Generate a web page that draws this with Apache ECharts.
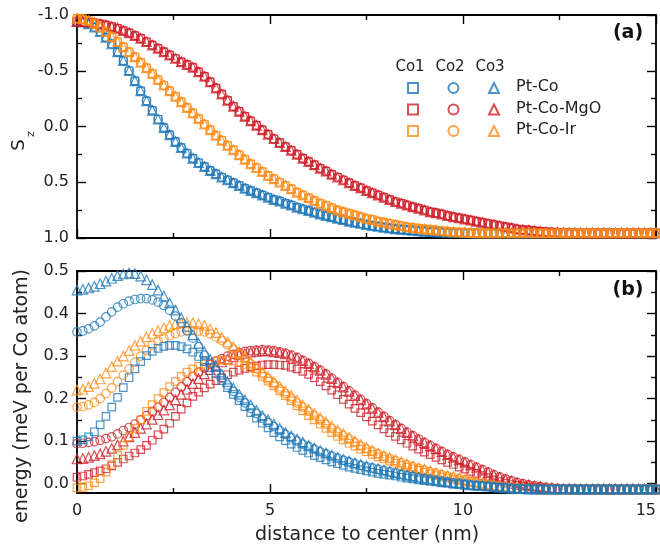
<!DOCTYPE html>
<html><head><meta charset="utf-8">
<script src="https://cdn.jsdelivr.net/npm/echarts@6/dist/echarts.min.js"></script>
<style>html,body{margin:0;padding:0;background:#fff}#c{width:660px;height:552px}</style>
</head><body><div id="c"></div>
<script>
// distance to center (nm)
const r = [0,0.15,0.3,0.45,0.6,0.75,0.9,1.05,1.2,1.35,
1.5,1.65,1.8,1.95,2.1,2.25,2.4,2.55,2.7,2.85,
3,3.15,3.3,3.45,3.6,3.75,3.9,4.05,4.2,4.35,
4.5,4.65,4.8,4.95,5.1,5.25,5.4,5.55,5.7,5.85,
6,6.15,6.3,6.45,6.6,6.75,6.9,7.05,7.2,7.35,
7.5,7.65,7.8,7.95,8.1,8.25,8.4,8.55,8.7,8.85,
9,9.15,9.3,9.45,9.6,9.75,9.9,10.05,10.2,10.35,
10.5,10.65,10.8,10.95,11.1,11.25,11.4,11.55,11.7,11.85,
12,12.15,12.3,12.45,12.6,12.75,12.9,13.05,13.2,13.35,
13.5,13.65,13.8,13.95,14.1,14.25,14.4,14.55,14.7,14.85,
15];

// panel (a): Sz
const szPtCo = [-0.94,-0.935,-0.92,-0.89,-0.85,-0.80,-0.74,-0.67,-0.59,-0.50,
-0.41,-0.32,-0.23,-0.145,-0.065,0.01,0.075,0.135,0.19,0.24,
0.285,0.325,0.36,0.395,0.425,0.455,0.48,0.505,0.53,0.555,
0.575,0.595,0.615,0.635,0.655,0.67,0.69,0.705,0.725,0.74,
0.755,0.77,0.785,0.80,0.81,0.825,0.835,0.85,0.86,0.87,
0.88,0.89,0.897,0.905,0.912,0.918,0.923,0.928,0.932,0.936,
0.94,0.943,0.946,0.948,0.95,0.952,0.953,0.954,0.955,0.955,
0.955,0.955,0.955,0.955,0.955,0.955,0.955,0.955,0.955,0.955,
0.955,0.955,0.955,0.955,0.955,0.955,0.955,0.955,0.955,0.955,
0.955,0.955,0.955,0.955,0.955,0.955,0.955,0.955,0.955,0.955,
0.955];
const szPtCoMgO = [-0.94,-0.94,-0.935,-0.93,-0.92,-0.91,-0.895,-0.88,-0.86,-0.84,
-0.815,-0.79,-0.76,-0.73,-0.70,-0.67,-0.64,-0.61,-0.58,-0.555,
-0.53,-0.49,-0.45,-0.40,-0.345,-0.29,-0.235,-0.18,-0.135,-0.09,
-0.05,-0.01,0.03,0.07,0.11,0.145,0.18,0.215,0.25,0.285,
0.315,0.345,0.375,0.40,0.43,0.455,0.48,0.505,0.53,0.55,
0.575,0.595,0.615,0.635,0.655,0.675,0.69,0.705,0.72,0.735,
0.75,0.765,0.775,0.785,0.80,0.81,0.82,0.83,0.84,0.85,
0.86,0.87,0.88,0.89,0.90,0.91,0.92,0.925,0.93,0.935,
0.94,0.945,0.948,0.95,0.952,0.954,0.955,0.955,0.955,0.955,
0.955,0.955,0.955,0.955,0.955,0.955,0.955,0.955,0.955,0.955,
0.955];
const szPtCoIr = [-0.97,-0.965,-0.95,-0.925,-0.89,-0.85,-0.805,-0.76,-0.715,-0.67,
-0.625,-0.575,-0.525,-0.475,-0.42,-0.37,-0.32,-0.27,-0.22,-0.17,
-0.12,-0.07,-0.02,0.03,0.08,0.125,0.17,0.21,0.255,0.295,
0.335,0.37,0.405,0.44,0.47,0.50,0.53,0.56,0.59,0.615,
0.64,0.665,0.69,0.71,0.73,0.75,0.765,0.78,0.795,0.81,
0.825,0.835,0.85,0.86,0.87,0.88,0.89,0.90,0.907,0.913,
0.92,0.925,0.93,0.935,0.94,0.944,0.947,0.95,0.952,0.954,
0.955,0.955,0.955,0.955,0.955,0.955,0.955,0.955,0.955,0.955,
0.955,0.955,0.955,0.955,0.955,0.955,0.955,0.955,0.955,0.955,
0.955,0.955,0.955,0.955,0.955,0.955,0.955,0.955,0.955,0.955,
0.955];

// panel (b): energy (meV per Co atom)
const ePtCo1 = [.10,.103,.11,.122,.138,.158,.18,.203,.226,.249,
.27,.287,.301,.311,.318,.323,.325,.325,.322,.317,
.309,.299,.287,.273,.258,.242,.226,.21,.195,.181,
.167,.154,.142,.131,.12,.11,.101,.093,.085,.078,
.072,.066,.061,.056,.051,.047,.043,.039,.036,.033,
.03,.027,.024,.022,.02,.018,.015,.013,.011,.009,
.007,.005,.004,.002,.001,-.001,-.002,-.003,-.004,-.005,
-.006,-.007,-.008,-.009,-.01,-.011,-.012,-.012,-.013,-.013,
-.013,-.013,-.013,-.013,-.013,-.013,-.013,-.013,-.013,-.013,
-.013,-.013,-.013,-.013,-.013,-.013,-.013,-.013,-.013,-.013,
-.013];
const ePtCo2 = [.357,.359,.364,.371,.38,.392,.404,.415,.423,.429,
.433,.435,.435,.432,.427,.419,.408,.394,.378,.36,
.342,.322,.302,.283,.265,.248,.232,.217,.203,.19,
.177,.165,.154,.144,.134,.125,.116,.108,.1,.093,
.087,.081,.075,.07,.065,.06,.055,.051,.047,.043,
.04,.037,.034,.031,.028,.025,.022,.019,.017,.014,
.012,.01,.008,.006,.004,.002,.001,-.001,-.003,-.004,
-.005,-.006,-.007,-.009,-.01,-.011,-.012,-.012,-.013,-.013,
-.013,-.013,-.013,-.013,-.013,-.013,-.013,-.013,-.013,-.013,
-.013,-.013,-.013,-.013,-.013,-.013,-.013,-.013,-.013,-.013,
-.013];
const ePtCo3 = [.455,.457,.46,.464,.47,.476,.483,.489,.493,.495,
.494,.488,.479,.468,.455,.441,.425,.408,.39,.37,
.35,.33,.31,.292,.275,.257,.24,.225,.21,.197,
.185,.172,.16,.15,.14,.13,.12,.112,.105,.097,
.09,.084,.078,.072,.067,.062,.057,.053,.049,.045,
.041,.038,.035,.032,.029,.026,.023,.02,.017,.015,
.012,.01,.008,.006,.004,.002,.001,-.001,-.003,-.004,
-.005,-.006,-.007,-.009,-.01,-.011,-.012,-.012,-.013,-.013,
-.013,-.013,-.013,-.013,-.013,-.013,-.013,-.013,-.013,-.013,
-.013,-.013,-.013,-.013,-.013,-.013,-.013,-.013,-.013,-.013,
-.013];
const ePtCoMgO1 = [.015,.018,.022,.026,.03,.035,.042,.05,.058,.065,
.072,.08,.09,.102,.115,.128,.142,.158,.175,.19,
.205,.215,.225,.234,.242,.249,.256,.262,.267,.271,
.275,.277,.279,.28,.28,.279,.278,.274,.27,.264,
.257,.249,.24,.23,.22,.209,.198,.187,.177,.167,
.157,.147,.138,.129,.12,.111,.103,.095,.088,.081,
.074,.068,.062,.056,.05,.045,.039,.034,.029,.024,
.019,.014,.009,.005,.001,-.002,-.004,-.006,-.008,-.009,
-.01,-.011,-.012,-.012,-.013,-.013,-.013,-.013,-.013,-.013,
-.013,-.013,-.013,-.013,-.013,-.013,-.013,-.013,-.013,-.013,
-.013];
const ePtCoMgO2 = [.094,.095,.097,.099,.102,.106,.11,.117,.125,.132,
.14,.15,.16,.17,.18,.191,.203,.215,.228,.24,
.252,.262,.272,.28,.288,.294,.3,.304,.308,.311,
.313,.314,.315,.314,.313,.31,.307,.302,.297,.29,
.283,.275,.267,.258,.248,.238,.228,.218,.208,.198,
.188,.178,.168,.158,.148,.139,.13,.121,.113,.105,
.097,.09,.083,.076,.069,.063,.057,.051,.045,.039,
.033,.027,.021,.016,.011,.007,.003,0,-.003,-.005,
-.007,-.009,-.01,-.011,-.012,-.012,-.013,-.013,-.013,-.013,
-.013,-.013,-.013,-.013,-.013,-.013,-.013,-.013,-.013,-.013,
-.013];
const ePtCoMgO3 = [.058,.059,.062,.066,.07,.076,.083,.091,.1,.11,
.12,.13,.14,.151,.162,.173,.185,.197,.21,.222,
.235,.247,.258,.268,.278,.286,.293,.298,.303,.306,
.309,.311,.312,.312,.31,.308,.305,.3,.295,.289,
.282,.274,.266,.257,.247,.237,.227,.217,.207,.197,
.187,.177,.167,.157,.147,.138,.129,.12,.112,.104,
.096,.089,.082,.075,.068,.062,.056,.05,.044,.038,
.032,.026,.02,.015,.01,.006,.002,-.001,-.003,-.005,
-.007,-.009,-.01,-.011,-.012,-.012,-.013,-.013,-.013,-.013,
-.013,-.013,-.013,-.013,-.013,-.013,-.013,-.013,-.013,-.013,
-.013];
const ePtCoIr1 = [-.01,-.009,-.005,.002,.012,.027,.045,.067,.09,.11,
.13,.15,.17,.186,.2,.214,.228,.24,.252,.262,
.27,.276,.281,.285,.288,.29,.29,.288,.285,.279,
.272,.262,.252,.241,.23,.218,.207,.195,.183,.171,
.16,.15,.14,.13,.12,.111,.103,.095,.088,.081,
.075,.069,.063,.058,.053,.048,.043,.039,.035,.031,
.027,.023,.019,.016,.013,.01,.007,.004,.002,-.001,
-.003,-.005,-.007,-.008,-.009,-.01,-.011,-.012,-.012,-.013,
-.013,-.013,-.013,-.013,-.013,-.013,-.013,-.013,-.013,-.013,
-.013,-.013,-.013,-.013,-.013,-.013,-.013,-.013,-.013,-.013,
-.013];
const ePtCoIr2 = [.18,.181,.185,.191,.2,.212,.225,.24,.255,.27,
.285,.3,.314,.326,.335,.342,.348,.353,.357,.359,
.36,.359,.357,.352,.345,.337,.327,.316,.305,.294,
.282,.27,.258,.246,.235,.223,.212,.201,.19,.18,
.17,.16,.15,.14,.13,.121,.113,.105,.097,.089,
.082,.076,.07,.064,.059,.054,.049,.044,.04,.036,
.032,.028,.024,.021,.018,.015,.012,.009,.006,.003,
0,-.002,-.004,-.006,-.008,-.009,-.01,-.011,-.012,-.012,
-.013,-.013,-.013,-.013,-.013,-.013,-.013,-.013,-.013,-.013,
-.013,-.013,-.013,-.013,-.013,-.013,-.013,-.013,-.013,-.013,
-.013];
const ePtCoIr3 = [.22,.222,.228,.236,.246,.26,.275,.288,.3,.313,
.325,.335,.345,.353,.36,.366,.372,.376,.378,.379,
.378,.376,.372,.364,.355,.344,.333,.322,.31,.298,
.285,.273,.262,.251,.24,.229,.218,.207,.196,.185,
.175,.165,.155,.145,.135,.126,.118,.109,.1,.092,
.085,.078,.072,.066,.061,.056,.051,.047,.042,.038,
.034,.03,.026,.022,.019,.016,.013,.01,.007,.004,
.001,-.001,-.004,-.006,-.008,-.009,-.01,-.011,-.012,-.012,
-.013,-.013,-.013,-.013,-.013,-.013,-.013,-.013,-.013,-.013,
-.013,-.013,-.013,-.013,-.013,-.013,-.013,-.013,-.013,-.013,
-.013];

const systems = ['Pt-Co', 'Pt-Co-MgO', 'Pt-Co-Ir'];
const layers = ['Co1', 'Co2', 'Co3'];
const xTicks = [0, 5, 10, 15];
const eTicks = [0, 0.1, 0.2, 0.3, 0.4, 0.5];
const eMinorTicks = [0.05, 0.15, 0.25, 0.35, 0.45];

const szData = {'Pt-Co': szPtCo, 'Pt-Co-MgO': szPtCoMgO, 'Pt-Co-Ir': szPtCoIr};
const eData = {
  'Pt-Co': {Co1: ePtCo1, Co2: ePtCo2, Co3: ePtCo3},
  'Pt-Co-MgO': {Co1: ePtCoMgO1, Co2: ePtCoMgO2, Co3: ePtCoMgO3},
  'Pt-Co-Ir': {Co1: ePtCoIr1, Co2: ePtCoIr2, Co3: ePtCoIr3}
};

const colors = {'Pt-Co': '#1f78b8', 'Pt-Co-MgO': '#d0202a', 'Pt-Co-Ir': '#ff8c1a'};
const symbols = {Co1: 'rect', Co2: 'circle', Co3: 'triangle'};
const sizes = {Co1: 7.5, Co2: 8.5, Co3: 9.5};
const FONT = 'DejaVu Sans';
const TXT = '#222';

function mk(name, sys, layer, xi, yi, arr) {
  return {
    type: 'scatter', name: name, xAxisIndex: xi, yAxisIndex: yi,
    symbol: symbols[layer], symbolSize: sizes[layer],
    data: r.map((x, i) => [x, arr[i]]),
    itemStyle: {color: 'rgba(255,255,255,0)', borderColor: colors[sys], borderWidth: 1.2},
    emphasis: {disabled: true}, silent: true, animation: false
  };
}

const series = [];
// panel (a): order blue, red, orange (orange on top)
['Pt-Co', 'Pt-Co-MgO', 'Pt-Co-Ir'].forEach(s => layers.forEach(l => series.push(mk(s + ' ' + l, s, l, 0, 0, szData[s]))));
// panel (b): order red, orange, blue (blue on top)
['Pt-Co-MgO', 'Pt-Co-Ir', 'Pt-Co'].forEach(s => layers.forEach(l => series.push(mk('b ' + s + ' ' + l, s, l, 2, 2, eData[s][l]))));

const axLine = {show: true, onZero: false, lineStyle: {color: '#000', width: 1.8}};
const tick = (len) => ({show: true, inside: true, length: len, lineStyle: {color: '#000', width: 1.4}});
const minor = {show: true, splitNumber: 2, length: 5, lineStyle: {color: '#000', width: 1.4}};
const noSplit = {show: false};

function xAx(grid, pos, labels) {
  return {
    type: 'value', gridIndex: grid, position: pos, min: 0, max: 15, interval: 5,
    axisLine: axLine, axisTick: tick(9), minorTick: minor, splitLine: noSplit, minorSplitLine: noSplit,
    axisLabel: {show: labels, fontSize: 16, fontFamily: FONT, color: TXT, margin: 10, alignMaxLabel: 'right',
      formatter: v => String(xTicks.find(t => Math.abs(t - v) < 1e-9) ?? v)}
  };
}

const option = {
  animation: false,
  backgroundColor: '#fff',
  textStyle: {fontFamily: FONT},
  grid: [
    {left: 77, top: 15, width: 579, height: 223, containLabel: false, outerBoundsMode: 'none'},
    {left: 77, top: 271, width: 579, height: 222, containLabel: false, outerBoundsMode: 'none'}
  ],
  xAxis: [xAx(0, 'bottom', false), xAx(0, 'top', false), xAx(1, 'bottom', true), xAx(1, 'top', false)],
  yAxis: [
    {type: 'value', gridIndex: 0, position: 'left', min: -1, max: 1, interval: 0.5, inverse: true,
      axisLine: axLine, axisTick: tick(9), minorTick: minor, splitLine: noSplit, minorSplitLine: noSplit,
      axisLabel: {fontSize: 16, fontFamily: FONT, color: TXT, margin: 8, formatter: v => v.toFixed(1)}},
    {type: 'value', gridIndex: 0, position: 'right', min: -1, max: 1, interval: 0.5, inverse: true,
      axisLine: axLine, axisTick: tick(9), minorTick: minor, splitLine: noSplit, minorSplitLine: noSplit,
      axisLabel: {show: false}},
    {type: 'value', gridIndex: 1, position: 'left', min: -0.022, max: 0.5,
      axisLine: axLine, axisTick: Object.assign(tick(9), {customValues: eTicks}), splitLine: noSplit,
      axisLabel: {fontSize: 16, fontFamily: FONT, color: TXT, margin: 8, customValues: eTicks, formatter: v => v.toFixed(1)}},
    {type: 'value', gridIndex: 1, position: 'left', min: -0.022, max: 0.5,
      axisLine: {show: false, onZero: false}, axisTick: Object.assign(tick(5), {customValues: eMinorTicks}), splitLine: noSplit,
      axisLabel: {show: false}},
    {type: 'value', gridIndex: 1, position: 'right', min: -0.022, max: 0.5,
      axisLine: axLine, axisTick: Object.assign(tick(9), {customValues: eTicks}), splitLine: noSplit,
      axisLabel: {show: false}},
    {type: 'value', gridIndex: 1, position: 'right', min: -0.022, max: 0.5,
      axisLine: {show: false, onZero: false}, axisTick: Object.assign(tick(5), {customValues: eMinorTicks}), splitLine: noSplit,
      axisLabel: {show: false}}
  ],
  legend: systems.map((s, k) => ({
    orient: 'horizontal', left: 402, top: 77 + k * 21.5, padding: 5, itemWidth: 10, itemHeight: 10, itemGap: 28.5,
    selectedMode: false, data: layers.map(l => s + ' ' + l), formatter: () => '',
    textStyle: {fontSize: 16, fontFamily: FONT, color: TXT}
  })),
  graphic: [
    {type: 'text', x: 19, y: 145, rotation: Math.PI / 2, style: {text: 'S', font: '18px "DejaVu Sans"', fill: TXT, align: 'center', verticalAlign: 'middle'}},
    {type: 'text', x: 31, y: 134, rotation: Math.PI / 2, style: {text: 'z', font: '11px "DejaVu Sans"', fill: TXT, align: 'center', verticalAlign: 'middle'}},
    {type: 'text', x: 22, y: 396, rotation: Math.PI / 2, style: {text: 'energy (meV per Co atom)', font: '19px "DejaVu Sans"', fill: TXT, align: 'center', verticalAlign: 'middle'}},
    {type: 'text', x: 367, y: 535, style: {text: 'distance to center (nm)', font: '19px "DejaVu Sans"', fill: TXT, align: 'center', verticalAlign: 'middle'}},
    {type: 'text', x: 628, y: 33, style: {text: '(a)', font: 'bold 19px "DejaVu Sans"', fill: '#111', align: 'center', verticalAlign: 'middle'}},
    {type: 'text', x: 628, y: 290, style: {text: '(b)', font: 'bold 19px "DejaVu Sans"', fill: '#111', align: 'center', verticalAlign: 'middle'}},
    ...layers.map((l, k) => ({type: 'text', x: 410 + k * 40, y: 67, style: {text: l, font: '15px "DejaVu Sans"', fill: TXT, align: 'center', verticalAlign: 'middle'}})),
    ...systems.map((s, k) => ({type: 'text', x: 516, y: 87 + k * 21.5, style: {text: s, font: '16px "DejaVu Sans"', fill: TXT, align: 'left', verticalAlign: 'middle'}}))
  ],
  series: series
};

const chart = echarts.init(document.getElementById('c'), null, {renderer: 'canvas'});
chart.setOption(option);
</script>
</body></html>
